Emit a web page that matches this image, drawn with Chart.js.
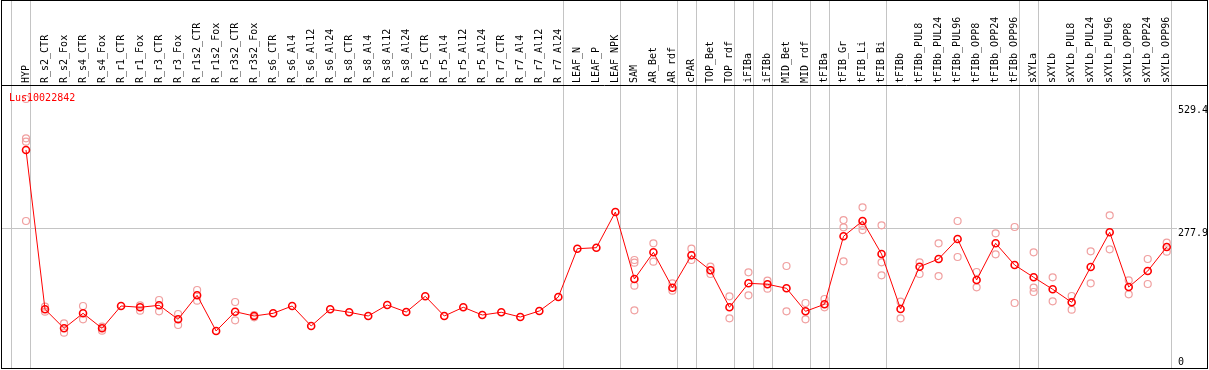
<!DOCTYPE html>
<html>
<head>
<meta charset="utf-8">
<script src="https://cdn.jsdelivr.net/npm/chart.js@4"></script>
<style>
  body { margin: 0; background: #fff; }
  canvas { display: block; }
</style>
</head>
<body>
<canvas id="exprChart" width="1209" height="370"></canvas>
<script>
const geneName = 'Lus10022842';

const categories = [
  'HYP', 'R_s2_CTR', 'R_s2_Fox', 'R_s4_CTR', 'R_s4_Fox', 'R_r1_CTR', 'R_r1_Fox', 'R_r3_CTR', 'R_r3_Fox',
  'R_r1s2_CTR', 'R_r1s2_Fox', 'R_r3s2_CTR', 'R_r3s2_Fox', 'R_s6_CTR', 'R_s6_Al4', 'R_s6_Al12', 'R_s6_Al24',
  'R_s8_CTR', 'R_s8_Al4', 'R_s8_Al12', 'R_s8_Al24', 'R_r5_CTR', 'R_r5_Al4', 'R_r5_Al12', 'R_r5_Al24',
  'R_r7_CTR', 'R_r7_Al4', 'R_r7_Al12', 'R_r7_Al24', 'LEAF_N', 'LEAF_P', 'LEAF_NPK', 'SAM', 'AR_Bet', 'AR_rdf',
  'cPAR', 'TOP_Bet', 'TOP_rdf', 'iFIBa', 'iFIBb', 'MID_Bet', 'MID_rdf', 'tFIBa', 'tFIB_Gr', 'tFIB_Li', 'tFIB_Bi',
  'tFIBb', 'tFIBb_PUL8', 'tFIBb_PUL24', 'tFIBb_PUL96', 'tFIBb_OPP8', 'tFIBb_OPP24', 'tFIBb_OPP96',
  'sXYLa', 'sXYLb', 'sXYLb_PUL8', 'sXYLb_PUL24', 'sXYLb_PUL96', 'sXYLb_OPP8', 'sXYLb_OPP24', 'sXYLb_OPP96'
];

// mean expression per sample
const meanValues = [
  430.5, 121.6, 84.7, 113.8, 84.7, 128.0, 125.5, 129.3, 102.2, 148.7, 79.5, 116.9, 108.6, 113.8, 128.0, 89.2,
  121.6, 115.8, 108.6, 129.9, 116.3, 146.8, 108.6, 125.5, 110.5, 115.8, 106.6, 118.3, 145.4, 239.1, 241.0,
  310.2, 180.3, 232.1, 163.5, 226.3, 197.2, 125.5, 172.0, 170.1, 162.3, 117.7, 131.3, 263.1, 292.8, 228.8,
  122.2, 204.2, 219.1, 257.9, 178.4, 249.6, 207.5, 183.6, 160.4, 135.1, 203.6, 270.9, 164.8, 195.8, 242.4
];

// individual replicates per sample (empty = hidden behind the mean)
const replicates = [
  [529.4, 453.1, 446.6, 292.8], [126.6, 116.9], [94.4, 76.2], [128.0, 102.2], [87.8, 80.1], [],
  [129.3, 118.9], [139.6, 117.7], [112.5, 91.1], [159.0, 138.3], [], [135.7, 100.2], [110.5, 106.1],
  [], [], [], [], [], [], [], [], [], [], [], [], [], [], [], [], [], [],
  [], [217.2, 211.9, 167.3, 119.6], [249.6, 213.9], [172.0, 157.6], [239.1, 217.2], [204.2, 190.0],
  [146.8, 104.1], [193.3, 148.7], [177.0, 161.5], [205.5, 117.7], [133.8, 102.2], [141.5, 125.5],
  [294.7, 280.6, 214.6], [319.4, 283.1, 275.3], [284.5, 212.7, 187.5], [136.3, 104.1], [212.7, 190.0],
  [249.6, 186.1], [292.8, 223.0], [193.9, 164.2], [268.9, 228.2], [281.2, 133.8], [232.1, 163.5, 155.1],
  [183.6, 137.1], [147.4, 120.8], [234.0, 172.0], [303.8, 237.9], [177.8, 150.7], [219.1, 170.6], [250.7, 233.3]
];

const yTicks = [0, 277.9, 529.4];
// group dividers are drawn just after these sample indexes
const groupEnds = [-1, 0, 28, 31, 34, 35, 37, 38, 39, 41, 42, 45, 52, 53, 60];

const FONT = '10px "DejaVu Sans Mono", monospace';

const meanPoints = meanValues.map((v, i) => ({ x: i, y: v }));
const repPoints = [];
replicates.forEach((reps, i) => reps.forEach(v => repPoints.push({ x: i, y: v })));

// frame, dividers and texts
const framePlugin = {
  id: 'frame',
  beforeDatasetsDraw(chart) {
    const { ctx } = chart;
    const xs = chart.scales.x;
    ctx.save();
    ctx.strokeStyle = '#c4c4c4';
    ctx.lineWidth = 1;
    groupEnds.forEach(i => {
      const px = Math.round(xs.getPixelForValue(i + 0.22)) + 0.5;
      ctx.beginPath();
      ctx.moveTo(px, 0);
      ctx.lineTo(px, 369);
      ctx.stroke();
    });
    ctx.restore();
  },
  afterDraw(chart) {
    const { ctx } = chart;
    const ys = chart.scales.y;
    ctx.save();
    ctx.strokeStyle = '#000';
    ctx.lineWidth = 1;
    ctx.strokeRect(1.5, 0.5, 1206, 368);
    ctx.beginPath();
    ctx.moveTo(1, 85.5);
    ctx.lineTo(1208, 85.5);
    ctx.stroke();

    ctx.font = FONT;
    ctx.textBaseline = 'alphabetic';
    ctx.textAlign = 'left';
    ctx.fillStyle = '#ff0000';
    ctx.fillText(geneName, 9, 101);

    ctx.fillStyle = '#000';
    const shift = { 0: -6.5, 277.9: 7.8, 529.4: 13.5 };
    yTicks.forEach(v => {
      ctx.fillText(String(v), 1178, ys.getPixelForValue(v) + shift[v]);
    });
    ctx.restore();
  }
};

new Chart(document.getElementById('exprChart'), {
  type: 'line',
  data: {
    datasets: [
      {
        label: geneName,
        data: meanPoints,
        borderColor: '#ff0000',
        borderWidth: 1,
        pointRadius: 3.5,
        pointBorderWidth: 1.6,
        pointBorderColor: '#ff0000',
        pointBackgroundColor: 'rgba(0,0,0,0)',
        tension: 0,
        clip: false
      },
      {
        type: 'scatter',
        label: 'replicates',
        data: repPoints,
        showLine: false,
        pointRadius: 3.5,
        pointBorderWidth: 1.2,
        pointBorderColor: '#f0a0a0',
        pointBackgroundColor: 'rgba(0,0,0,0)',
        clip: false
      }
    ]
  },
  options: {
    responsive: false,
    animation: false,
    layout: { autoPadding: false, padding: { left: 1, right: 0, top: 0, bottom: 1 } },
    plugins: {
      legend: { display: false },
      tooltip: { enabled: false }
    },
    scales: {
      x: {
        type: 'linear',
        position: 'top',
        min: -1.315,
        max: 60.54,
        afterBuildTicks: scale => { scale.ticks = categories.map((c, i) => ({ value: i })); },
        afterFit: scale => {
          scale.height = 99;
          scale.paddingLeft = 0;
          scale.paddingRight = 0;
        },
        grid: { display: false, drawTicks: false },
        border: { display: false },
        ticks: {
          autoSkip: false,
          minRotation: 90,
          maxRotation: 90,
          padding: 16,
          labelOffset: 12,
          color: '#000',
          font: { family: '"DejaVu Sans Mono", monospace', size: 10 },
          callback: v => categories[v]
        }
      },
      y: {
        type: 'linear',
        position: 'right',
        min: 5.8,
        max: 529.4,
        afterBuildTicks: scale => { scale.ticks = yTicks.map(v => ({ value: v })); },
        afterFit: scale => {
          scale.width = 32;
          scale.paddingTop = 0;
          scale.paddingBottom = 0;
        },
        grid: {
          drawTicks: false,
          color: ctx => (ctx.tick && ctx.tick.value === 277.9 ? '#c4c4c4' : 'rgba(0,0,0,0)')
        },
        border: { display: false },
        ticks: { display: false }
      }
    }
  },
  plugins: [framePlugin]
});
</script>
</body>
</html>
